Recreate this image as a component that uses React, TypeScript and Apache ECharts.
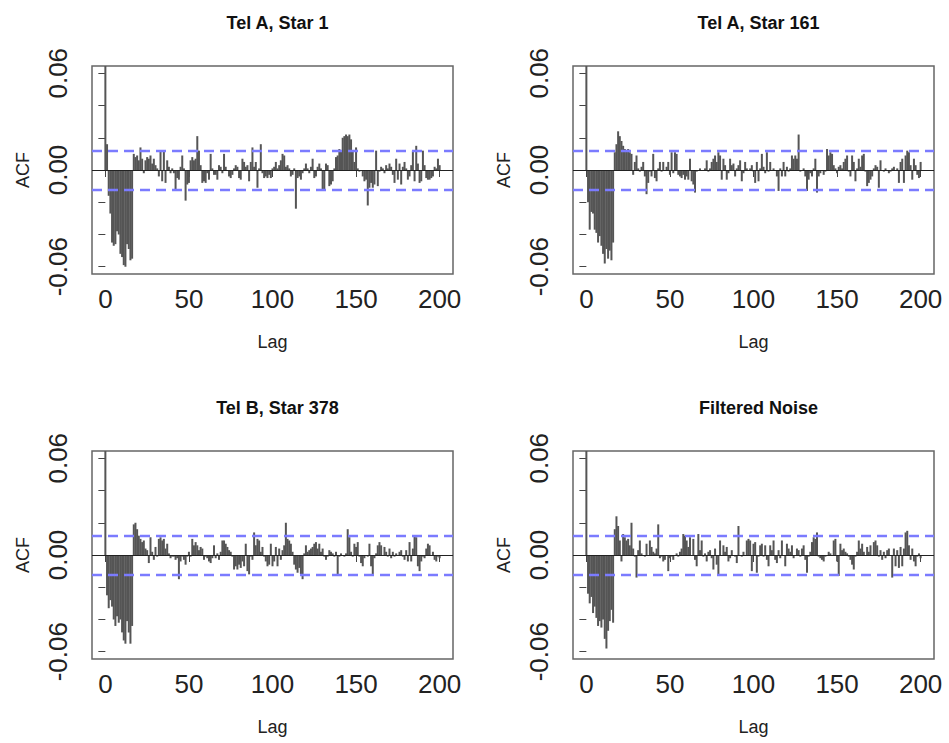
import React, { useEffect, useRef } from "react";
import * as echarts from "echarts";

// ACF values, lag 0..200
const acfStar1 = [1, 0.016, -0.016, -0.027, -0.045, -0.047, -0.046, -0.038, -0.040, -0.052, -0.054, -0.059, -0.060, -0.046, -0.049, -0.056, -0.055,
  0.010, 0.008, 0.009, 0.006, 0.014, 0.007, -0.002, 0.006, 0.008, 0.007, 0.009, 0.004, 0.007, 0.003,
  0.001, -0.004, 0.012, -0.007, 0.012, -0.008, 0.006, 0.002, -0.002, 0.001,
  -0.002, -0.013, -0.005, -0.006, 0.002, 0.009, 0.001, -0.019, -0.009, -0.008,
  0.006, 0.008, 0.006, 0.007, 0.021, 0.012, 0.003, -0.008, -0.007, -0.008,
  -0.002, -0.006, 0.010, 0.001, -0.003, -0.003, -0.006, 0.003, 0.002, -0.002,
  0.010, 0.002, 0.000, -0.004, -0.005, -0.003, 0.001, 0.003, 0.002, -0.005,
  -0.006, 0.007, 0.005, 0.002, 0.003, -0.007, 0.005, 0.014, 0.002, 0.005,
  -0.011, 0.001, 0.016, -0.002, -0.005, -0.004, -0.005, -0.003, -0.005, 0.001,
  0.002, 0.005, 0.001, 0.003, 0.006, 0.010, 0.009, 0.002, 0.003, 0.001,
  -0.004, -0.003, 0.001, -0.024, -0.005, -0.004, -0.006, -0.002, 0.001, 0.004,
  0.001, -0.002, 0.002, 0.007, -0.005, -0.004, 0.002, 0.004, 0.001, -0.012,
  -0.012, 0.004, 0.003, -0.010, -0.009, -0.007, 0.001, 0.008, 0.009, 0.013,
  0.012, 0.020, 0.021, 0.022, 0.021, 0.022, 0.019, 0.012, 0.005, 0.014,
  0.001, -0.001, 0.000, -0.004, -0.007, -0.006, -0.022, -0.011, -0.008, -0.011,
  -0.009, 0.012, -0.010, -0.001, 0.002, 0.001, -0.002, 0.003, 0.001, 0.004,
  0.002, -0.003, -0.008, 0.007, -0.006, 0.004, -0.009, 0.002, 0.005, 0.001,
  -0.006, -0.004, 0.003, 0.012, -0.007, 0.015, 0.004, -0.008, -0.007, 0.012,
  0.003, -0.005, -0.006, -0.006, -0.005, -0.004, 0.002, 0.001, 0.007, 0.003];

const acfStar161 = [1, -0.020, -0.037, -0.026, -0.027, -0.037, -0.039, -0.045, -0.041, -0.047, -0.052, -0.058, -0.049, -0.055, -0.050, -0.056, -0.045,
  0.011, 0.016, 0.024, 0.021, 0.018, 0.015, 0.013, 0.012, 0.013, 0.011, 0.010, -0.003, 0.005, 0.009,
  0.001, -0.001, 0.002, 0.005, -0.004, -0.015, -0.008, -0.001, -0.004, 0.010,
  -0.005, -0.007, 0.001, 0.005, -0.001, 0.005, 0.000, 0.002, 0.005, -0.003,
  0.011, -0.002, 0.011, 0.010, -0.003, -0.004, -0.005, -0.003, -0.006, -0.004,
  -0.006, 0.007, -0.007, -0.009, -0.014, -0.001, 0.000, 0.001, 0.000, 0.000,
  0.001, 0.006, -0.001, 0.001, 0.005, 0.007, 0.009, 0.005, 0.011, 0.009,
  -0.006, 0.007, 0.003, -0.006, -0.002, 0.007, 0.003, 0.004, -0.004, 0.001,
  0.003, 0.006, -0.007, -0.002, 0.005, 0.001, 0.000, 0.001, 0.003, -0.001,
  -0.008, 0.005, -0.007, 0.001, 0.010, 0.002, -0.002, 0.011, -0.001, 0.005,
  0.000, 0.001, 0.000, -0.004, -0.013, 0.001, -0.004, 0.005, -0.004, 0.002,
  -0.001, 0.001, 0.009, 0.007, 0.009, 0.007, 0.022, -0.001, 0.000, 0.001,
  -0.004, -0.013, -0.006, -0.002, -0.004, 0.001, 0.007, -0.014, -0.004, -0.002,
  0.000, -0.003, -0.001, 0.013, 0.009, 0.011, 0.010, 0.003, 0.001, -0.002,
  0.002, 0.003, 0.001, 0.005, 0.007, 0.009, -0.001, -0.004, 0.009, 0.005,
  -0.007, 0.001, 0.007, 0.002, 0.009, 0.010, -0.001, -0.010, -0.008, -0.006,
  -0.004, 0.001, 0.003, 0.002, -0.011, 0.006, 0.000, -0.001, 0.001, 0.000,
  -0.002, -0.001, 0.001, 0.002, 0.000, 0.001, -0.008, 0.005, 0.007, -0.008,
  0.009, 0.012, 0.011, 0.003, -0.006, 0.007, 0.003, -0.003, -0.005, 0.005];

const acfStar378 = [1, -0.025, -0.033, -0.028, -0.032, -0.040, -0.044, -0.038, -0.042, -0.040, -0.048, -0.053, -0.055, -0.041, -0.048, -0.055, -0.044,
  0.019, 0.020, 0.016, 0.012, 0.010, 0.008, 0.009, 0.004, 0.003, -0.005, 0.011, 0.002, -0.003, 0.005,
  -0.001, 0.010, 0.011, 0.009, 0.010, 0.004, 0.007, 0.001, -0.002, -0.001,
  -0.001, -0.003, -0.002, -0.015, -0.004, -0.001, -0.003, -0.006, -0.001, 0.002,
  -0.001, 0.010, 0.006, 0.008, 0.006, 0.003, 0.005, 0.004, -0.003, -0.001,
  -0.002, -0.004, -0.005, -0.002, 0.006, -0.002, 0.001, -0.003, 0.002, 0.009,
  0.009, 0.007, 0.005, 0.003, 0.002, -0.001, -0.009, -0.007, -0.009, -0.006,
  -0.008, -0.004, -0.007, 0.007, -0.010, -0.012, -0.001, -0.003, 0.014, 0.006,
  0.010, 0.009, 0.002, 0.005, -0.001, -0.004, -0.007, -0.006, 0.007, -0.007,
  -0.004, 0.005, -0.007, 0.004, -0.003, 0.003, 0.006, 0.020, 0.010, 0.009,
  0.007, 0.002, -0.006, -0.009, -0.011, -0.008, -0.012, -0.015, 0.001, 0.006,
  0.002, 0.003, 0.004, 0.005, 0.007, 0.008, 0.004, 0.007, 0.002, 0.004,
  -0.001, -0.003, -0.001, 0.003, 0.002, 0.001, -0.001, 0.002, -0.013, -0.001,
  0.001, 0.000, -0.001, 0.001, 0.016, 0.011, 0.002, -0.001, 0.007, 0.005,
  0.008, -0.001, -0.005, -0.007, -0.002, 0.000, -0.001, 0.007, -0.007, -0.013,
  -0.002, 0.001, 0.006, 0.008, 0.006, 0.000, 0.005, 0.002, -0.001, 0.004,
  -0.002, 0.002, -0.001, 0.001, 0.000, 0.002, 0.003, -0.001, -0.003, 0.003,
  -0.004, 0.008, -0.004, 0.004, 0.012, 0.011, -0.007, -0.010, -0.004, -0.001,
  -0.002, 0.004, 0.007, 0.006, 0.000, 0.002, -0.003, -0.004, -0.001, -0.002];

const acfNoise = [1, -0.024, -0.030, -0.026, -0.036, -0.032, -0.039, -0.044, -0.041, -0.045, -0.040, -0.052, -0.058, -0.047, -0.041, -0.034, -0.042,
  0.016, 0.024, 0.018, 0.009, -0.004, 0.013, 0.011, 0.009, 0.010, 0.006, 0.020, 0.004, -0.001, -0.014,
  0.003, 0.009, 0.001, 0.000, -0.001, 0.007, 0.000, 0.009, 0.005, 0.002,
  0.001, 0.004, 0.019, -0.002, -0.001, -0.004, -0.003, 0.000, -0.010, -0.002,
  -0.001, -0.003, 0.000, 0.001, -0.001, 0.002, 0.004, 0.013, 0.012, 0.009,
  0.005, 0.011, 0.000, 0.010, -0.003, -0.007, 0.013, 0.003, 0.009, -0.001,
  0.001, -0.004, 0.002, 0.003, -0.002, -0.009, 0.004, -0.006, -0.013, 0.009,
  0.000, 0.006, 0.002, 0.005, -0.004, -0.002, 0.003, 0.000, -0.001, -0.005,
  0.018, 0.000, -0.001, 0.002, 0.000, 0.009, 0.010, 0.009, -0.010, 0.007,
  0.008, -0.011, -0.001, 0.006, 0.007, -0.001, 0.006, -0.003, -0.007, 0.006,
  0.003, 0.009, -0.003, -0.005, 0.003, -0.002, 0.009, 0.000, -0.007, 0.007,
  0.004, 0.002, 0.006, -0.002, 0.000, 0.004, 0.003, -0.001, 0.004, 0.006,
  -0.003, -0.011, -0.001, 0.002, 0.008, 0.011, 0.010, 0.014, -0.001, -0.002,
  -0.003, -0.004, -0.001, 0.000, 0.002, 0.001, 0.000, 0.009, 0.010, -0.004,
  -0.013, 0.007, 0.003, 0.004, 0.002, 0.001, -0.001, -0.003, -0.006, -0.009,
  -0.001, 0.002, 0.009, 0.004, 0.007, 0.002, 0.000, 0.005, 0.002, 0.006,
  0.000, 0.008, 0.009, 0.006, -0.001, 0.003, -0.003, 0.002, -0.002, 0.003,
  0.004, 0.000, -0.014, 0.004, -0.007, 0.003, -0.008, 0.005, -0.007, 0.004,
  0.014, 0.015, 0.006, -0.003, 0.004, -0.004, -0.007, -0.001, 0.001, -0.002];

const panelTitles = ["Tel A, Star 1", "Tel A, Star 161", "Tel B, Star 378", "Filtered Noise"];
const panelData = [acfStar1, acfStar161, acfStar378, acfNoise];
const xTicks = [0, 50, 100, 150, 200];
const yTicks = [-0.06, -0.04, -0.02, 0, 0.02, 0.04, 0.06];
const yLabels = [-0.06, 0, 0.06];
const ciBound = 0.0122;
const xRange = [-8, 208];
const yRange = [-0.0645, 0.0645];

const FONT = "'Liberation Sans', Arial, Helvetica, sans-serif";
const GRID_W = 361;
const GRID_H = 208;
const lefts = [92, 573, 92, 573];
const tops = [66, 66, 451, 451];
const SPIKE_W = 2.0;

function renderSpike(params: any, api: any) {
  const lag = api.value(0);
  const val = api.value(1);
  const top = api.coord([lag, val]);
  const base = api.coord([lag, 0]);
  const cs = params.coordSys;
  const rect = echarts.graphic.clipRectByRect(
    {
      x: top[0] - SPIKE_W / 2,
      y: Math.min(top[1], base[1]),
      width: SPIKE_W,
      height: Math.abs(base[1] - top[1]),
    },
    { x: cs.x, y: cs.y, width: cs.width, height: cs.height }
  );
  if (!rect) return null;
  return { type: "rect", shape: rect, style: { fill: "#555" } };
}

export default function App() {
  const ref = useRef<HTMLDivElement>(null);
  useEffect(() => {
    if (!ref.current) return;
    const chart = echarts.init(ref.current, null, { renderer: "svg" });
    const option: any = {
      animation: false,
      backgroundColor: "#ffffff",
      title: panelTitles.map((t, i) => ({
        text: t,
        left: lefts[i] + GRID_W / 2,
        top: tops[i] - 57,
        textAlign: "center",
        textStyle: { fontSize: 18, fontWeight: "bold", color: "#111", fontFamily: FONT },
      })),
      grid: panelTitles.map((_, i) => ({
        left: lefts[i],
        top: tops[i],
        width: GRID_W,
        height: GRID_H,
        show: true,
        borderColor: "#666",
        borderWidth: 1.5,
        backgroundColor: "transparent",
      })),
      xAxis: panelTitles.map((_, i) => ({
        type: "value",
        gridIndex: i,
        min: xRange[0],
        max: xRange[1],
        splitLine: { show: false },
        axisLine: { show: false },
        axisTick: { show: true, length: 7, lineStyle: { color: "#444", width: 1 }, customValues: xTicks },
        axisLabel: { customValues: xTicks, fontSize: 26, color: "#222", margin: 12, fontFamily: FONT },
        name: "Lag",
        nameLocation: "middle",
        nameGap: 59,
        nameTextStyle: { fontSize: 18, color: "#222", fontFamily: FONT },
      })),
      yAxis: panelTitles.map((_, i) => ({
        type: "value",
        gridIndex: i,
        min: yRange[0],
        max: yRange[1],
        splitLine: { show: false },
        axisLine: { show: false },
        axisTick: { show: true, length: 7, lineStyle: { color: "#444", width: 1 }, customValues: yTicks },
        axisLabel: {
          customValues: yLabels,
          rotate: 90,
          fontSize: 26,
          color: "#222",
          margin: 21,
          fontFamily: FONT,
          formatter: (v: number) => v.toFixed(2),
        },
        name: "ACF",
        nameLocation: "middle",
        nameGap: 60,
        nameTextStyle: { fontSize: 18, color: "#222", fontFamily: FONT },
      })),
      series: panelData.map((vals, i) => ({
        type: "custom",
        xAxisIndex: i,
        yAxisIndex: i,
        data: vals.map((v, k) => [k, v]),
        encode: { x: 0, y: 1 },
        clip: true,
        renderItem: renderSpike,
        markLine: {
          silent: true,
          symbol: "none",
          precision: 6,
          label: { show: false },
          data: [
            { yAxis: 0, lineStyle: { color: "#222", width: 1.2, type: "solid" } },
            { yAxis: ciBound, lineStyle: { color: "#7b7bff", width: 2.3, type: [10, 6] } },
            { yAxis: -ciBound, lineStyle: { color: "#7b7bff", width: 2.3, type: [10, 6] } },
          ],
        },
      })),
    };
    chart.setOption(option);
    return () => chart.dispose();
  }, []);
  return (
    <div
      ref={ref}
      style={{ position: "absolute", left: 0, top: 0, width: 949, height: 743, background: "#fff" }}
    />
  );
}
